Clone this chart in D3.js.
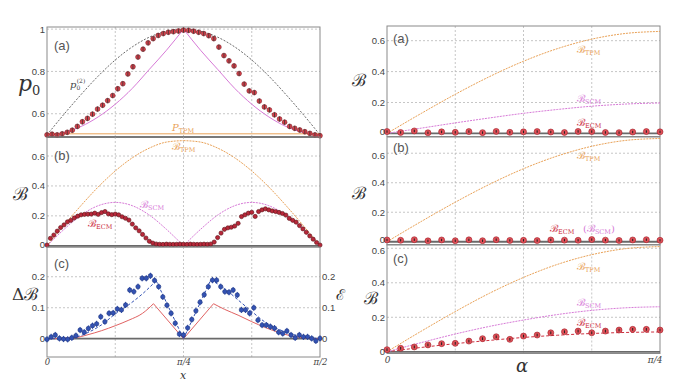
<!DOCTYPE html>
<html><head><meta charset="utf-8">
<script src="https://cdn.jsdelivr.net/npm/d3@7"></script>
<style>body{margin:0;background:#fff}svg{display:block}</style>
</head><body>
<svg id="c" width="673" height="381"></svg>
<script>
const PI = Math.PI;
// ================= DATA =================
// Left column: x from 0 to pi/2, evenly spaced samples
const p0Values = [0.500,0.503,0.500,0.505,0.512,0.522,0.540,0.562,0.578,0.598,
  0.622,0.640,0.662,0.686,0.718,0.742,0.788,0.822,0.868,0.905,
  0.935,0.955,0.970,0.979,0.985,0.988,0.991,0.995,0.994,0.990,
  0.985,0.979,0.969,0.955,0.915,0.875,0.850,0.826,0.790,0.740,
  0.708,0.700,0.660,0.632,0.618,0.595,0.575,0.560,0.540,0.531,
  0.523,0.515,0.507,0.500,0.496];
const p0Err = 0.012;
const curveGridL = [0,1/16,2/16,3/16,4/16,5/16,6/16,7/16,8/16,9/16,10/16,11/16,12/16,13/16,14/16,15/16,1]; // fraction of pi/2
const p0TwoValues = [0.500,0.598,0.691,0.778,0.854,0.916,0.962,0.990,1.000,0.990,0.962,0.916,0.854,0.778,0.691,0.598,0.500];
const p0ScmValues = [0.500,0.512,0.540,0.585,0.645,0.720,0.810,0.900,1.000,0.900,0.810,0.720,0.645,0.585,0.540,0.512,0.500];
const pTpmValues = [0.505,0.505];
const pTpmGrid = [0,1];

const bEcmValues = [0.005,0.050,0.072,0.098,0.122,0.140,0.160,0.170,0.186,0.198,
  0.207,0.210,0.211,0.212,0.218,0.210,0.222,0.229,0.213,0.208,
  0.212,0.207,0.194,0.184,0.172,0.145,0.120,0.100,0.076,0.052,
  0.030,0.018,0.012,0.010,0.009,0.011,0.010,0.009,0.010,0.011,
  0.010,0.009,0.011,0.010,0.009,0.010,0.011,0.010,
  0.012,0.025,0.055,0.085,0.110,0.120,0.124,0.132,0.150,0.195,
  0.207,0.218,0.224,0.196,0.229,0.240,0.247,0.240,0.233,0.229,
  0.223,0.216,0.205,0.183,0.170,0.158,0.135,0.113,0.090,0.066,
  0.044,0.022,0.005];
const bTpmValues = [0,0.138,0.270,0.393,0.500,0.588,0.653,0.693,0.703,0.693,0.653,0.588,0.500,0.393,0.270,0.138,0];
const bScmValues = [0,0.110,0.205,0.268,0.290,0.268,0.205,0.110,0,0.110,0.205,0.268,0.290,0.268,0.205,0.110,0];

const dbValues = [-0.002,0.006,0.012,0.001,-0.001,-0.002,0.003,0.010,0.028,0.021,
  0.033,0.042,0.048,0.071,0.055,0.082,0.083,0.096,0.093,0.109,
  0.157,0.152,0.168,0.195,0.195,0.203,0.188,0.168,0.135,0.108,
  0.082,0.050,0.015,0.012,
  0.035,0.062,0.090,0.118,0.142,0.168,0.189,0.189,0.168,0.152,
  0.150,0.157,0.141,0.093,0.093,0.082,0.100,0.060,0.044,0.044,
  0.039,0.034,0.021,0.017,0.025,0.012,0.003,0.012,0.006,0.006,
  0.001,-0.007,0.001];
const dbErr = 0.010;
const dbTheoryGrid = [0,0.05,0.1,0.15,0.2,0.25,0.3,0.35,0.4,0.5,0.6,0.65,0.7,0.75,0.8,0.85,0.9,0.95,1.0];
const dbTheoryValues = [0,0,0.004,0.020,0.045,0.080,0.110,0.145,0.187,0,0.190,0.162,0.125,0.088,0.053,0.030,0.014,0.005,0];
const entGrid = [0,0.1,0.15,0.2,0.25,0.3,0.35,0.39,0.5,0.61,0.65,0.7,0.75,0.8,0.85,0.9,0.95,1.0];
const entValues = [0,0.003,0.013,0.026,0.042,0.060,0.082,0.113,0,0.113,0.095,0.076,0.055,0.036,0.020,0.008,0.002,0];

// Right column: alpha from 0 to pi/4
const alphaGrid = [0,1/8,2/8,3/8,4/8,5/8,6/8,7/8,1]; // fraction of pi/4
const rTpmA = [0,0.129,0.253,0.367,0.467,0.549,0.610,0.647,0.660];
const rScmA = [0,0.034,0.068,0.100,0.130,0.155,0.176,0.190,0.197];
const rEcmA = [0.012,0.006,0.016,0.004,0.010,0.007,0.012,0.005,0.013,0.007,0.010,0.012,0.009,0.006,0.013,0.012,0.006,0.005,0.009,0.012,0.010];
const rTpmB = [0,0.137,0.268,0.389,0.495,0.582,0.647,0.687,0.700];
const rEcmB = [0.012,0.010,0.014,0.006,0.012,0.007,0.013,0.007,0.014,0.009,0.010,0.008,0.012,0.011,0.010,0.015,0.011,0.009,0.012,0.014,0.010];
const rTpmC = [0,0.119,0.233,0.339,0.431,0.507,0.563,0.598,0.610];
const rScmC = [0,0.053,0.103,0.147,0.184,0.216,0.240,0.255,0.261];
const rEcmFitC = [0,0.025,0.047,0.066,0.083,0.096,0.106,0.112,0.115];
const rEcmC = [0.012,0.020,0.028,0.040,0.047,0.049,0.062,0.076,0.087,0.072,0.091,0.097,0.110,0.116,0.120,0.110,0.120,0.126,0.130,0.130,0.126];
const rEcmErr = 0.008;

// ================= DRAWING =================
const svg = d3.select('#c');
const COL = {orange:'#e9a258', magenta:'#d77ad7', red:'#cc2f3f', blue:'#3352b3', grid:'#b8b8b8', frame:'#8a8a8a', axis:'#6a6a6a', text:'#444'};

const xL = d3.scaleLinear().domain([0, PI/2]).range([47, 320]);
const xR = d3.scaleLinear().domain([0, PI/4]).range([387, 660]);

function panel(x, yDomain, yRange, yTicks, vGrid, zeroLine) {
  const y = d3.scaleLinear().domain(yDomain).range(yRange);
  const g = svg.append('g');
  const [x0, x1] = x.range();
  g.selectAll('.vg').data(vGrid).join('line')
    .attr('x1', d => x(d)).attr('x2', d => x(d)).attr('y1', yRange[1]).attr('y2', yRange[0])
    .attr('stroke', COL.grid).attr('stroke-width', 0.8).attr('stroke-dasharray', '2,2');
  g.selectAll('.hg').data(yTicks.filter(d => d !== 0)).join('line')
    .attr('x1', x0).attr('x2', x1).attr('y1', d => y(d)).attr('y2', d => y(d))
    .attr('stroke', COL.grid).attr('stroke-width', 0.8).attr('stroke-dasharray', '2,2');
  g.append('rect').attr('x', x0).attr('y', yRange[1]).attr('width', x1 - x0).attr('height', yRange[0] - yRange[1])
    .attr('fill', 'none').attr('stroke', COL.frame).attr('stroke-width', 1);
  if (zeroLine) {
    g.append('line').attr('x1', x0).attr('x2', x1).attr('y1', y(0)).attr('y2', y(0))
      .attr('stroke', COL.axis).attr('stroke-width', 1.8);
  }
  const ax = svg.append('g').attr('transform', `translate(${x0},0)`)
    .call(d3.axisLeft(y).tickValues(yTicks).tickSize(0).tickPadding(2).tickFormat(d => d3.format('~g')(d)));
  ax.select('.domain').remove();
  ax.selectAll('text').attr('font-family', 'Liberation Sans, Arial, sans-serif').attr('font-size', 9.5).attr('fill', COL.text);
  return {g, y, ax};
}

function curve(p, x, gridFrac, span, vals, breaks, style) {
  const pts = vals.map((v, i) => [gridFrac[i] * span, v]);
  const cuts = [0, ...breaks, pts.length - 1];
  const line = d3.line().x(d => x(d[0])).y(d => p.y(d[1])).curve(d3.curveMonotoneX);
  for (let k = 0; k < cuts.length - 1; k++) {
    const seg = pts.slice(cuts[k], cuts[k + 1] + 1);
    p.g.append('path').attr('d', line(seg)).attr('fill', 'none')
      .attr('stroke', style.c).attr('stroke-width', style.w || 1)
      .attr('stroke-dasharray', style.d || null);
  }
}

function points(p, x, span, vals, err, style) {
  const n = vals.length;
  const xv = i => x(i / (n - 1) * span);
  const gg = p.g.append('g');
  const pts = gg.selectAll('g').data(vals).join('g');
  if (style.errUnder) {
    pts.append('line').attr('x1', (d, i) => xv(i)).attr('x2', (d, i) => xv(i))
      .attr('y1', d => p.y(d - err)).attr('y2', d => p.y(d + err)).attr('stroke', style.ec).attr('stroke-width', style.ew || 1);
  }
  pts.append('circle').attr('cx', (d, i) => xv(i)).attr('cy', d => p.y(d)).attr('r', style.r)
    .attr('fill', style.f).attr('stroke', style.s).attr('stroke-width', style.sw || 0.6);
  if (!style.errUnder && err > 0) {
    pts.append('line').attr('x1', (d, i) => xv(i)).attr('x2', (d, i) => xv(i))
      .attr('y1', d => p.y(d - err)).attr('y2', d => p.y(d + err)).attr('stroke', style.ec).attr('stroke-width', style.ew || 1);
  }
}

function label(x, y, main, sub, color, opts = {}) {
  const t = svg.append('text').attr('x', x).attr('y', y).attr('fill', color)
    .attr('font-family', opts.ff || 'DejaVu Serif, serif').attr('font-size', opts.fs || 11)
    .attr('font-style', opts.it ? 'italic' : null);
  t.append('tspan').text(main);
  if (sub) t.append('tspan').attr('font-size', opts.sfs || 6.5).attr('dy', opts.sdy || 2).attr('font-family', 'DejaVu Serif, serif').attr('font-style', 'normal').text(sub);
  return t;
}
function panelTag(x, y, s) {
  svg.append('text').attr('x', x).attr('y', y).attr('font-family', 'Liberation Sans, Arial, sans-serif')
    .attr('font-size', 13).attr('fill', '#555').text(s);
}

const B = '\u212C';
const vGridL = [PI/8, PI/4, 3*PI/8];
const vGridR = [PI/16, PI/8, 3*PI/16];

// ---- Left (a)
const L1 = panel(xL, [0.49, 1.01], [137, 27], [0.6, 0.8, 1], vGridL, false);
L1.g.append('line').attr('x1', 47).attr('x2', 320).attr('y1', 137).attr('y2', 137).attr('stroke', COL.axis).attr('stroke-width', 1.8);
curve(L1, xL, curveGridL, PI/2, p0TwoValues, [8], {c:'#444', w:0.8, d:'2,1.5'});
curve(L1, xL, curveGridL, PI/2, p0ScmValues, [8], {c:COL.magenta, w:1});
curve(L1, xL, pTpmGrid, PI/2, pTpmValues, [], {c:COL.orange, w:1});
points(L1, xL, PI/2, p0Values, p0Err, {r:2.4, f:'#d8404a', s:'#7a2028', ec:'#333', ew:0.8});

// ---- Left (b)
const L2 = panel(xL, [-0.008, 0.727], [247, 137], [0, 0.2, 0.4, 0.6], vGridL, true);
curve(L2, xL, curveGridL, PI/2, bTpmValues, [8], {c:COL.orange, w:1, d:'2,1'});
curve(L2, xL, curveGridL, PI/2, bScmValues, [8], {c:COL.magenta, w:1, d:'2,1'});
points(L2, xL, PI/2, bEcmValues, 0, {r:2.1, f:'#b8283a', s:'#5a1015', sw:0.6});

// ---- Left (c)
const L3 = panel(xL, [-0.059, 0.296], [357, 247], [0, 0.1, 0.2], vGridL, true);
curve(L3, xL, entGrid, PI/2, entValues, [7, 8, 9], {c:'#e06262', w:1});
curve(L3, xL, dbTheoryGrid, PI/2, dbTheoryValues, [8, 9, 10], {c:COL.blue, w:1, d:'3,2'});
points(L3, xL, PI/2, dbValues, dbErr, {r:2.2, f:'#3352b3', s:'#1e3680', ec:'#3352b3', ew:1, errUnder:true});
const axR = svg.append('g').attr('transform', 'translate(320,0)')
  .call(d3.axisRight(L3.y).tickValues([0, 0.1, 0.2]).tickSize(0).tickPadding(2).tickFormat(d => d3.format('~g')(d)));
axR.select('.domain').remove();
axR.selectAll('text').attr('font-family', 'Liberation Sans, Arial, sans-serif').attr('font-size', 9.5).attr('fill', COL.text);

const axLx = svg.append('g').attr('transform', 'translate(0,357)')
  .call(d3.axisBottom(xL).tickValues([0, PI/4, PI/2]).tickSize(0).tickPadding(2)
    .tickFormat(d => d === 0 ? '0' : (Math.abs(d - PI/4) < 1e-9 ? 'π/4' : 'π/2')));
axLx.select('.domain').remove();
axLx.selectAll('text').attr('font-family', 'DejaVu Serif, serif').attr('font-style', 'italic').attr('font-size', 8.5).attr('fill', COL.text);

// ---- Right (a)
const R1 = panel(xR, [-0.02, 0.695], [136.5, 26], [0, 0.2, 0.4, 0.6], vGridR, true);
curve(R1, xR, alphaGrid, PI/4, rTpmA, [], {c:COL.orange, w:1, d:'2,1'});
curve(R1, xR, alphaGrid, PI/4, rScmA, [], {c:COL.magenta, w:1, d:'2,1'});
points(R1, xR, PI/4, rEcmA, rEcmErr, {r:3, f:'#e05058', s:'#a02028', ec:'#222', ew:1});

// ---- Right (b)
const R2 = panel(xR, [-0.022, 0.71], [245, 137], [0, 0.2, 0.4, 0.6], vGridR, true);
curve(R2, xR, alphaGrid, PI/4, rTpmB, [], {c:COL.orange, w:1, d:'2,1'});
points(R2, xR, PI/4, rEcmB, rEcmErr, {r:3, f:'#e05058', s:'#a02028', ec:'#222', ew:1});

// ---- Right (c)
const R3 = panel(xR, [-0.01, 0.622], [353.5, 244.5], [0, 0.2, 0.4, 0.6], vGridR, true);
curve(R3, xR, alphaGrid, PI/4, rTpmC, [], {c:COL.orange, w:1, d:'2,1'});
curve(R3, xR, alphaGrid, PI/4, rScmC, [], {c:COL.magenta, w:1, d:'2,1'});
curve(R3, xR, alphaGrid, PI/4, rEcmFitC, [], {c:COL.red, w:1, d:'3,2'});
points(R3, xR, PI/4, rEcmC, rEcmErr, {r:3, f:'#e05058', s:'#a02028', ec:'#222', ew:1});
R1.ax.selectAll('text').filter(d => d === 0).attr('dy', '0.1em');
R2.ax.selectAll('text').filter(d => d === 0.6).attr('dy', '0.55em');
R2.ax.selectAll('text').filter(d => d === 0).attr('dy', '0.1em');
R3.ax.selectAll('text').filter(d => d === 0.6).attr('dy', '0.6em');
L2.ax.selectAll('text').filter(d => d === 0).attr('dy', '0.2em');

const axRx = svg.append('g').attr('transform', 'translate(0,353.5)')
  .call(d3.axisBottom(xR).tickValues([0, PI/4]).tickSize(0).tickPadding(3)
    .tickFormat(d => d === 0 ? '0' : 'π/4'));
axRx.select('.domain').remove();
axRx.selectAll('text').attr('font-family', 'DejaVu Serif, serif').attr('font-style', 'italic').attr('font-size', 9).attr('fill', COL.text);
axRx.selectAll('text').filter(d => d !== 0).attr('text-anchor', 'end').attr('dx', 2);

// ---- Labels
panelTag(54, 50, '(a)'); panelTag(54, 160, '(b)'); panelTag(54, 268, '(c)');
panelTag(393, 43, '(a)'); panelTag(393, 152, '(b)'); panelTag(393, 263, '(c)');

label(18, 91, 'p', '0', '#333', {fs:22, it:true, sfs:13, sdy:4});
label(13, 200, B, null, '#333', {fs:18});
label(12, 300, 'Δ' + B, null, '#333', {fs:17});
label(336, 300, 'ℰ', null, '#333', {fs:15});
svg.append('text').attr('x', 183).attr('y', 379).attr('text-anchor', 'middle').attr('font-family', 'DejaVu Serif, serif')
  .attr('font-style', 'italic').attr('font-size', 11).attr('fill', '#333').text('x');
svg.append('text').attr('x', 522).attr('y', 372).attr('text-anchor', 'middle').attr('font-family', 'DejaVu Serif, serif')
  .attr('font-style', 'italic').attr('font-size', 18).attr('fill', '#333').text('α');
label(352, 86, B, null, '#333', {fs:17});
label(352, 199, B, null, '#333', {fs:17});
label(364, 304, B, null, '#333', {fs:17});

const p02 = svg.append('text').attr('x', 70).attr('y', 88).attr('fill', '#444').attr('font-family', 'DejaVu Serif, serif').attr('font-size', 10);
p02.append('tspan').attr('font-style', 'italic').text('p');
p02.append('tspan').attr('font-size', 6).attr('dy', 2).text('0');
p02.append('tspan').attr('font-size', 6).attr('dx', -3.5).attr('dy', -7).text('(2)');
label(172, 131, 'P', 'TPM', COL.orange, {fs:10, it:true});
label(172, 150, B, 'TPM', COL.orange, {fs:10});
label(140, 208, B, 'SCM', COL.magenta, {fs:10});
label(88, 227, B, 'ECM', COL.red, {fs:10});
label(577, 53, B, 'TPM', COL.orange, {fs:10});
label(577, 102, B, 'SCM', COL.magenta, {fs:10});
label(577, 126, B, 'ECM', COL.red, {fs:10});
label(577, 159, B, 'TPM', COL.orange, {fs:10});
label(550, 232, B, 'ECM', COL.red, {fs:10});
const lb2 = label(583, 232, '(' + B, null, COL.magenta, {fs:10});
lb2.append('tspan').attr('font-size', 6.5).attr('dy', 2).text('SCM');
lb2.append('tspan').attr('dy', -2).text(')');
label(577, 270, B, 'TPM', COL.orange, {fs:10});
label(577, 306, B, 'SCM', COL.magenta, {fs:10});
label(577, 326, B, 'ECM', COL.red, {fs:10});
</script>
</body></html>
